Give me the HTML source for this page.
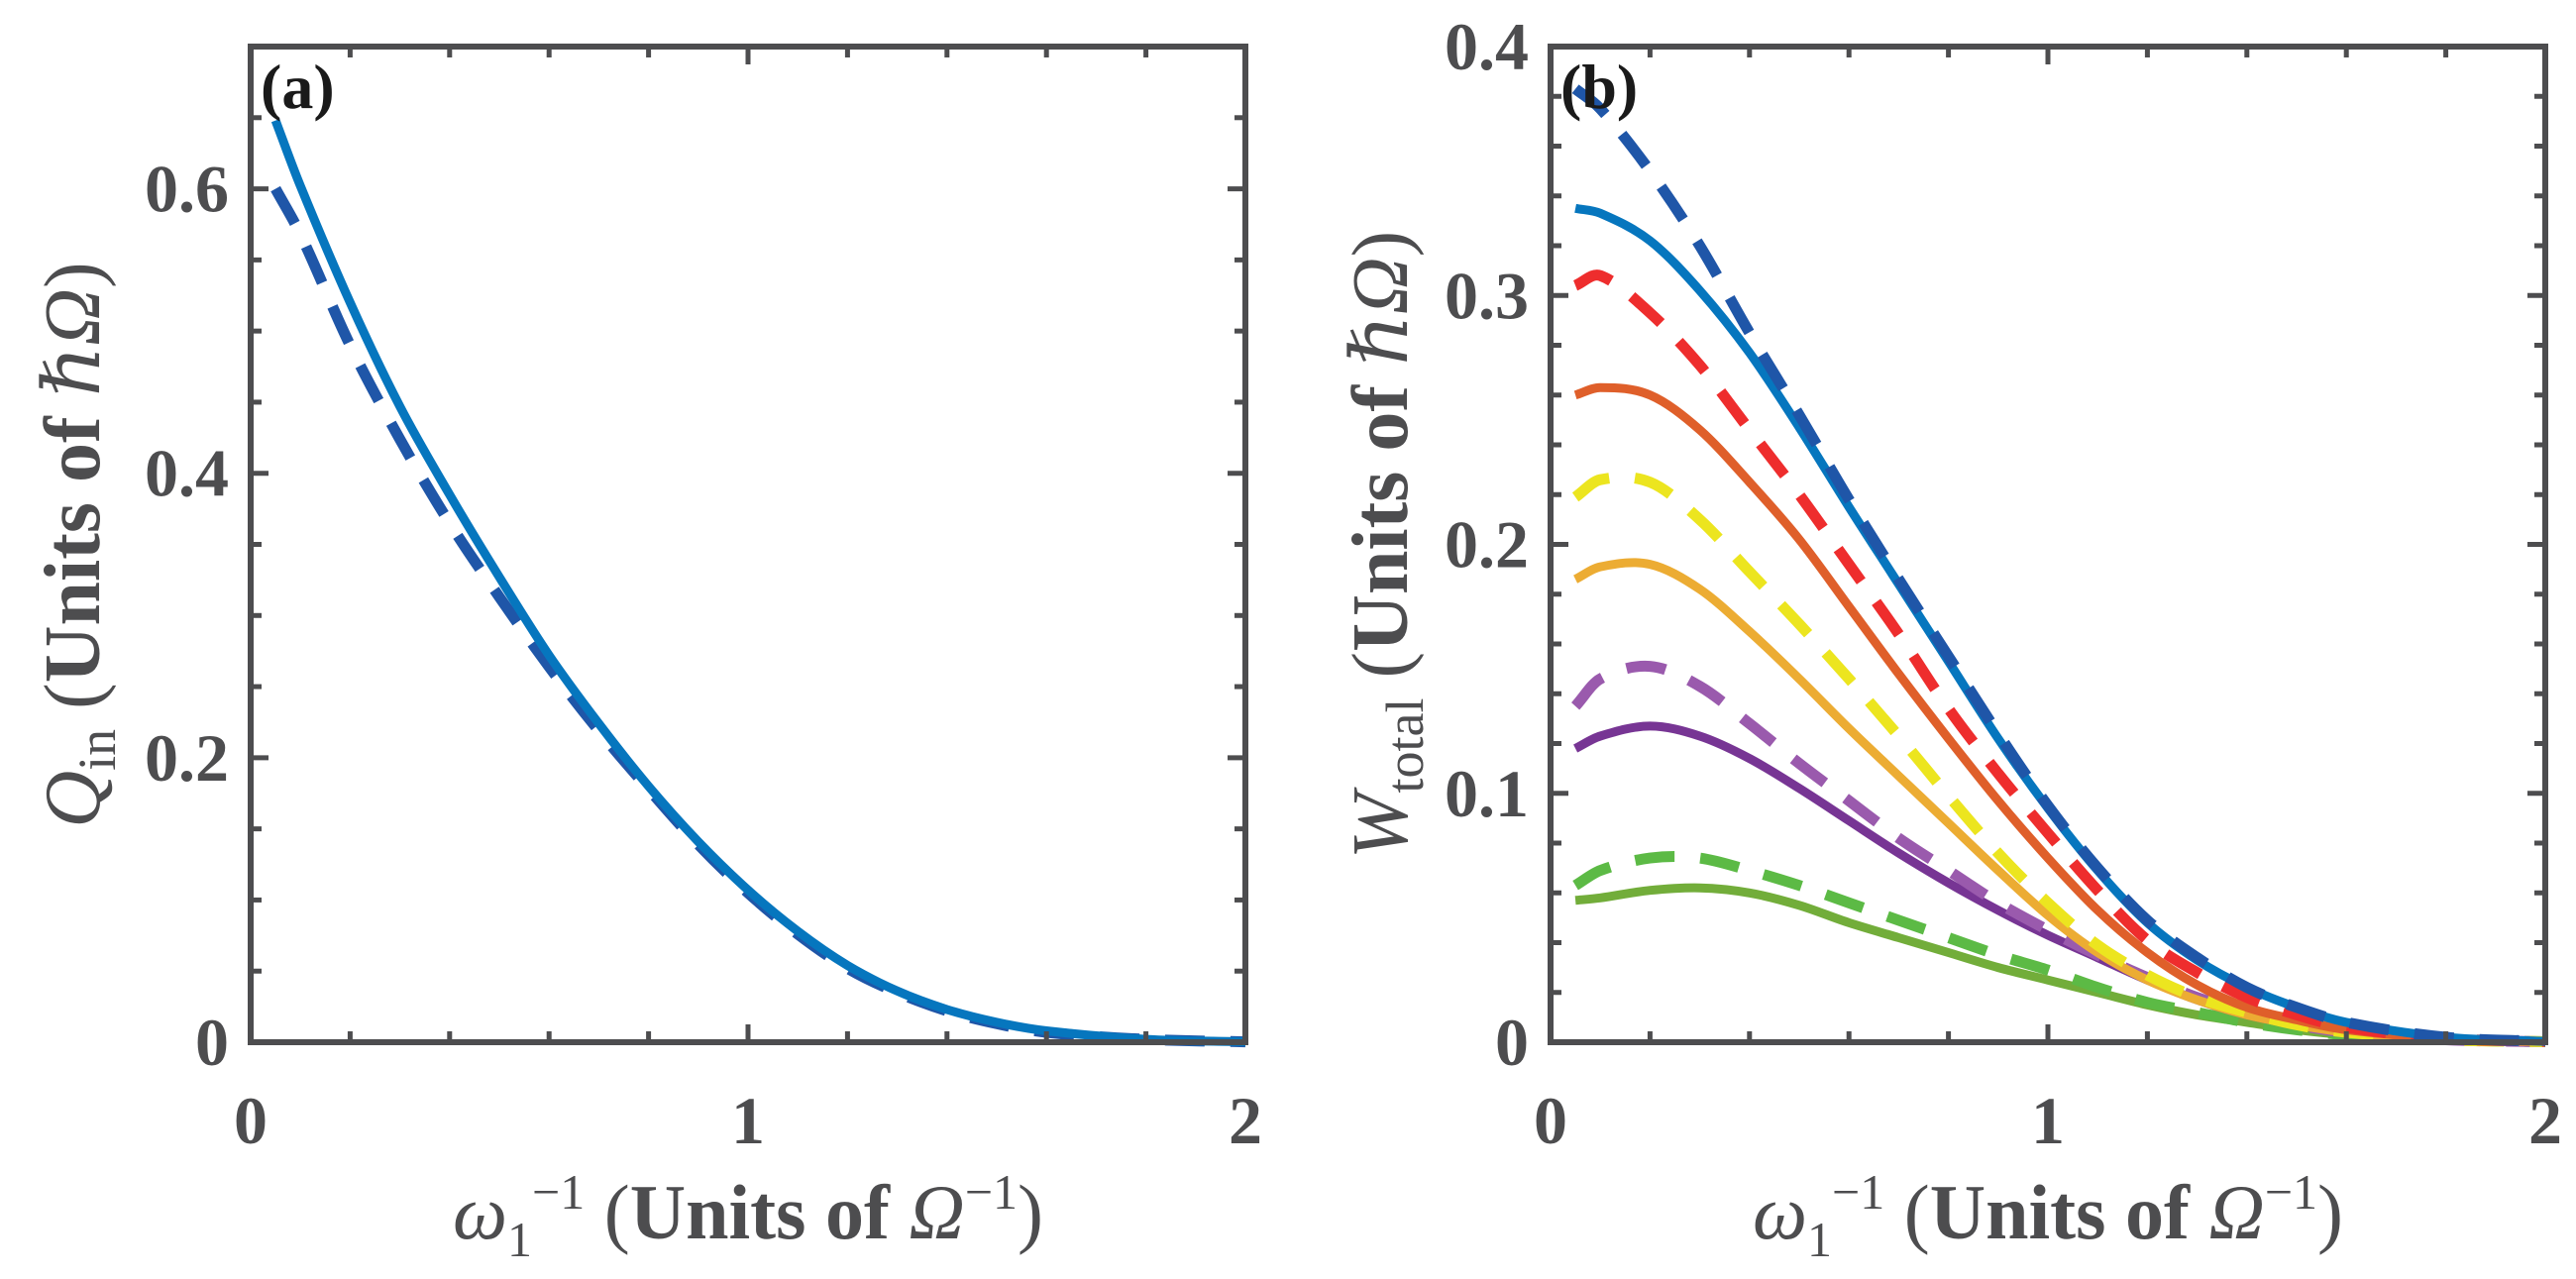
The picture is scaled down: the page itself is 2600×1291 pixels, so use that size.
<!DOCTYPE html>
<html><head><meta charset="utf-8"><style>
html,body{margin:0;padding:0;background:#fff}
svg{display:block}
text{font-family:"Liberation Serif","DejaVu Serif",serif;fill:#4d4d4f}
</style></head><body>
<svg id="fig" width="2600" height="1291" viewBox="0 0 2600 1291" xmlns="http://www.w3.org/2000/svg" font-family="Liberation Serif, DejaVu Serif, serif">
<g id="pa"></g>
<g id="pb"></g>
</svg>
<script>
const xs = [0.05,0.1,0.2,0.3,0.4,0.5,0.6,0.7,0.8,0.9,1.0,1.1,1.2,1.3,1.4,1.5,1.6,1.8,2.0];
// panel (a)
const qinSolid  = [0.648,0.602,0.52,0.447,0.385,0.327,0.272,0.224,0.180,0.141,0.107,0.078,0.054,0.036,0.023,0.014,0.008,0.002,0.0003];
const qinDashed = [0.600,0.568,0.49,0.424,0.365,0.313,0.264,0.219,0.178,0.139,0.105,0.076,0.052,0.035,0.022,0.013,0.007,0.002,0.0003];
// panel (b)
const wBlueSolid   = [0.335,0.333,0.322,0.302,0.277,0.247,0.215,0.184,0.153,0.122,0.094,0.069,0.048,0.033,0.022,0.014,0.008,0.002,0.0003];
const wBlueDashed  = [0.383,0.375,0.350,0.320,0.285,0.252,0.218,0.186,0.155,0.124,0.095,0.070,0.049,0.034,0.022,0.014,0.008,0.002,0.0003];
const wRedDashed   = [0.304,0.308,0.293,0.272,0.246,0.220,0.192,0.164,0.134,0.108,0.084,0.061,0.041,0.028,0.018,0.011,0.006,0.0015,0.0003];
const wOrangeSolid = [0.260,0.263,0.260,0.246,0.225,0.202,0.175,0.148,0.122,0.097,0.074,0.053,0.036,0.023,0.014,0.009,0.005,0.0015,0.0003];
const wYellowDashed= [0.219,0.226,0.225,0.210,0.189,0.168,0.146,0.123,0.099,0.076,0.056,0.039,0.027,0.018,0.012,0.007,0.004,0.001,0.0002];
const wGoldSolid   = [0.186,0.191,0.192,0.182,0.165,0.146,0.126,0.107,0.088,0.069,0.051,0.036,0.025,0.017,0.011,0.007,0.004,0.001,0.0002];
const wPurpleDashed= [0.135,0.146,0.151,0.143,0.128,0.112,0.097,0.082,0.069,0.056,0.045,0.035,0.026,0.018,0.012,0.007,0.004,0.001,0.0002];
const wPurpleSolid = [0.118,0.123,0.127,0.123,0.114,0.102,0.089,0.076,0.064,0.053,0.043,0.034,0.025,0.017,0.011,0.007,0.004,0.001,0.0002];
const wGreenDashed = [0.063,0.069,0.074,0.074,0.069,0.063,0.056,0.049,0.042,0.035,0.029,0.022,0.016,0.012,0.008,0.005,0.003,0.001,0.0002];
const wGreenSolid  = [0.057,0.058,0.061,0.062,0.060,0.055,0.048,0.042,0.036,0.030,0.025,0.020,0.015,0.011,0.008,0.005,0.003,0.001,0.0002];
const xTicks = [0,1,2];
const yTicksA = [0,0.2,0.4,0.6];
const yTicksB = [0,0.1,0.2,0.3,0.4];

const NS="http://www.w3.org/2000/svg";
function mk(tag,attrs,parent){const e=document.createElementNS(NS,tag);for(const k in attrs)e.setAttribute(k,attrs[k]);parent.appendChild(e);return e;}
function smooth(pts){let d=`M${pts[0][0]},${pts[0][1]}`;for(let i=0;i<pts.length-1;i++){const p0=pts[Math.max(0,i-1)],p1=pts[i],p2=pts[i+1],p3=pts[Math.min(pts.length-1,i+2)];
  const h=p2[0]-p1[0];
  const m1=(p2[1]-p0[1])/(p2[0]-p0[0]||1), m2=(p3[1]-p1[1])/(p3[0]-p1[0]||1);
  const c1=[p1[0]+h/3,p1[1]+m1*h/3];const c2=[p2[0]-h/3,p2[1]-m2*h/3];
  d+=` C${c1[0].toFixed(1)},${c1[1].toFixed(1)} ${c2[0].toFixed(1)},${c2[1].toFixed(1)} ${p2[0].toFixed(1)},${p2[1].toFixed(1)}`;}return d;}

function panel(g,L,ymax,yMinor,yTicks,tag,series,ylabelMain,ylabelSub,ylabelX){
  const T=47,B=1052,R=L+1004;
  const sx=v=>L+v/2*(R-L), sy=v=>B-v/ymax*(B-T);
  series.forEach(s=>{
    const p=mk('path',{d:smooth(xs.map((x,i)=>[sx(x),sy(s.v[i])])),fill:'none',stroke:s.c,'stroke-width':s.dash?11:9,'stroke-dasharray':s.dash?'40 26':'none','stroke-linecap':'butt'},g);
    
    
  });
  const ax=mk('g',{},g);
  
  
  mk('rect',{x:L,y:T,width:R-L,height:B-T,fill:'none',stroke:'#4d4d4f','stroke-width':6},ax);
  for(let v=0;v<=2.0001;v+=0.2){const x=sx(v);const len=(Math.abs(v-Math.round(v))<1e-6)?18:11;
    mk('line',{x1:x,y1:B,x2:x,y2:B-len,stroke:'#4d4d4f','stroke-width':5},ax);
    mk('line',{x1:x,y1:T,x2:x,y2:T+len,stroke:'#4d4d4f','stroke-width':5},ax);}
  for(let v=0;v<=ymax+1e-6;v+=yMinor){const y=sy(v);const major=yTicks.some(t=>Math.abs(t-v)<1e-6);const len=major?18:11;
    mk('line',{x1:L,y1:y,x2:L+len,y2:y,stroke:'#4d4d4f','stroke-width':5},ax);
    mk('line',{x1:R,y1:y,x2:R-len,y2:y,stroke:'#4d4d4f','stroke-width':5},ax);}
  xTicks.forEach(v=>{const t=mk('text',{x:sx(v),y:1154,'text-anchor':'middle','font-size':68,'font-weight':'bold'},g);t.textContent=v;
    
    });
  yTicks.forEach(v=>{const t=mk('text',{x:L-22,y:sy(v)+23,'text-anchor':'end','font-size':68,'font-weight':'bold'},g);t.textContent=v===0?'0':String(v);
    
    });
  const lab=mk('text',{x:L+10,y:T+62,'font-size':64,'font-weight':'bold',style:'fill:#1a1a1a'},g);lab.textContent=tag;
  
  
  const xl=mk('text',{x:(L+R)/2,y:1250,'text-anchor':'middle','font-size':78},g);
  
  
  xl.innerHTML='<tspan font-style="italic">ω</tspan><tspan font-size="50" dy="18">1</tspan><tspan font-size="50" dy="-48">−1</tspan><tspan dy="30"> (</tspan><tspan font-weight="bold">Units of </tspan><tspan font-style="italic">Ω</tspan><tspan font-size="50" dy="-30">−1</tspan><tspan dy="30">)</tspan>';
  const yl=mk('text',{x:0,y:0,'text-anchor':'middle','font-size':80,transform:`translate(${ylabelX},550) rotate(-90)`},g);
  
  
  yl.innerHTML=`<tspan font-style="italic">${ylabelMain}</tspan><tspan font-size="54" dy="16">${ylabelSub}</tspan><tspan dy="-16"> (</tspan><tspan font-weight="bold">Units of </tspan><tspan font-style="italic">ℏΩ</tspan><tspan>)</tspan>`;
}

panel(document.getElementById('pa'),253,0.7,0.05,yTicksA,'(a)',[
  {v:qinDashed,c:'#1f56a8',dash:true,n:'qin-dashed-line'},
  {v:qinSolid,c:'#0676be',dash:false,n:'qin-solid-line'}
],'Q','in',100);

panel(document.getElementById('pb'),1565,0.4,0.02,yTicksB,'(b)',[
  {v:wGreenSolid,c:'#72ad3a',dash:false,n:'green-solid-line'},
  {v:wGreenDashed,c:'#5cba45',dash:true,n:'green-dashed-line'},
  {v:wPurpleSolid,c:'#773594',dash:false,n:'purple-solid-line'},
  {v:wPurpleDashed,c:'#9a5aad',dash:true,n:'purple-dashed-line'},
  {v:wGoldSolid,c:'#ecac33',dash:false,n:'gold-solid-line'},
  {v:wYellowDashed,c:'#ece51f',dash:true,n:'yellow-dashed-line'},
  {v:wOrangeSolid,c:'#df5f2a',dash:false,n:'orange-solid-line'},
  {v:wRedDashed,c:'#ee2d2d',dash:true,n:'red-dashed-line'},
  {v:wBlueSolid,c:'#0676be',dash:false,n:'blue-solid-line'},
  {v:wBlueDashed,c:'#1f56a8',dash:true,n:'blue-dashed-line'}
],'W','total',1420);
</script>
</body></html>
